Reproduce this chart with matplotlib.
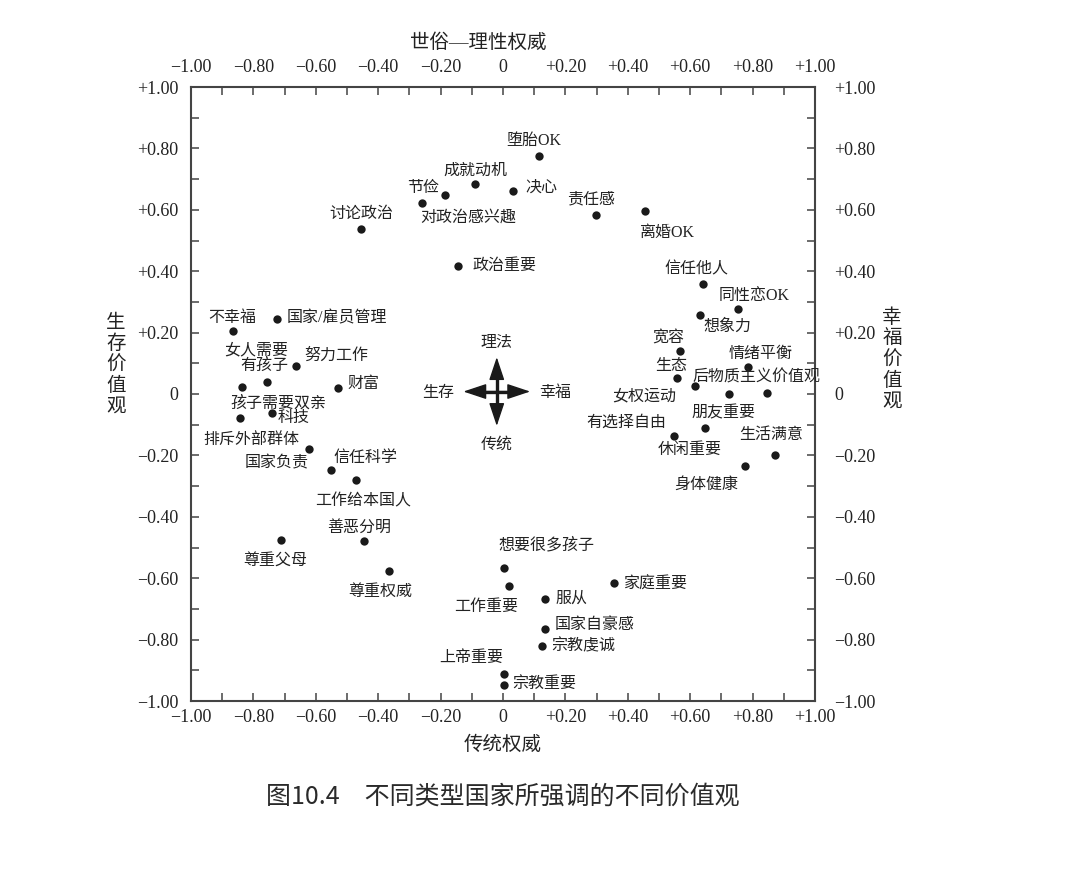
import matplotlib
matplotlib.use("Agg")
import matplotlib.pyplot as plt
import numpy as np

# ---------------- data ----------------
labels = [
    "堕胎OK", "成就动机", "节俭", "对政治感兴趣", "决心", "责任感", "讨论政治", "离婚OK", "政治重要",
    "信任他人", "同性恋OK", "想象力", "宽容", "情绪平衡", "生态", "后物质主义价值观", "女权运动",
    "朋友重要", "有选择自由", "休闲重要", "生活满意", "身体健康",
    "不幸福", "国家/雇员管理", "女人需要\n有孩子", "努力工作", "财富", "孩子需要双亲", "科技",
    "排斥外部群体", "国家负责", "信任科学", "工作给本国人",
    "善恶分明", "尊重父母", "尊重权威",
    "想要很多孩子", "工作重要", "家庭重要", "服从", "国家自豪感", "宗教虔诚", "上帝重要", "宗教重要",
]
x_vals = [
    0.114, -0.089, -0.259, -0.187, 0.033, 0.299, -0.456, 0.456, -0.143,
    0.640, 0.753, 0.630, 0.567, 0.784, 0.559, 0.845, 0.616,
    0.725, 0.549, 0.646, 0.873, 0.776,
    -0.864, -0.725, -0.755, -0.664, -0.530, -0.836, -0.741,
    -0.843, -0.623, -0.551, -0.472,
    -0.446, -0.713, -0.364,
    0.003, 0.018, 0.356, 0.136, 0.134, 0.124, 0.003, 0.003,
]
y_vals = [
    0.776, 0.683, 0.623, 0.649, 0.660, 0.582, 0.537, 0.597, 0.418,
    0.358, 0.276, 0.256, 0.141, 0.089, 0.052, 0.004, 0.027,
    0.000, -0.137, -0.112, -0.198, -0.235,
    0.204, 0.245, 0.038, 0.090, 0.021, 0.024, -0.063,
    -0.078, -0.178, -0.249, -0.280,
    -0.478, -0.477, -0.577,
    -0.568, -0.625, -0.617, -0.669, -0.765, -0.821, -0.912, -0.948,
]
tick_values = [-1.0, -0.8, -0.6, -0.4, -0.2, 0.0, 0.2, 0.4, 0.6, 0.8, 1.0]
tick_labels = ["−1.00", "−0.80", "−0.60", "−0.40", "−0.20", "0",
               "+0.20", "+0.40", "+0.60", "+0.80", "+1.00"]
top_title = "世俗—理性权威"
bottom_title = "传统权威"
left_title = "生存价值观"
right_title = "幸福价值观"
caption = "图10.4\u3000不同类型国家所强调的不同价值观"
compass = {"up": "理法", "down": "传统", "left": "生存", "right": "幸福"}

# label placement (pixel offsets from the dot, ha)
placements = [
    (-5, 15, "center"), (0, 14, "center"), (1, 15, "center"), (24, -23, "center"), (12, 4, "left"),
    (-5, 16, "center"), (1, 15, "center"), (22, -22, "center"), (14, 0, "left"),
    (-6, 15, "center"), (16, 13, "center"), (28, -11, "center"), (-12, 12, "center"), (13, 13, "center"),
    (-6, 12, "center"), (-10, 15, "center"), (-19, -11, "right"),
    (-6, -19, "center"), (-8, 13, "right"), (-15, -22, "center"), (-4, 20, "center"), (-39, -19, "center"),
    (-1, 13, "center"), (10, 0, "left"), (21, 24, "right"), (9, 11, "left"), (10, 4, "left"),
    (36, -17, "center"), (6, -5, "left"),
    (11, -22, "center"), (-32, -15, "center"), (34, 12, "center"), (7, -21, "center"),
    (-5, 13, "center"), (-5, -21, "center"), (-9, -21, "center"),
    (43, 23, "center"), (-22, -21, "center"), (9, -1, "left"), (10, 1, "left"), (10, 4, "left"),
    (10, 0, "left"), (-1, 16, "right"), (8, 1, "left"),
]

SERIF_CJK = ["Liberation Serif", "Noto Sans CJK SC"]
plt.rcParams["font.family"] = SERIF_CJK
TXT = "#222222"

fig = plt.figure(figsize=(10.73, 8.85), dpi=100)
ax = fig.add_axes([191 / 1073, 184 / 885, 624 / 1073, 614 / 885])
ax.set_xlim(-1, 1)
ax.set_ylim(-1, 1)

ax.scatter(x_vals, y_vals, s=36, color="#1a1a1a", zorder=3, linewidths=0)
for lab, xv, yv, (dx, dy, ha) in zip(labels, x_vals, y_vals, placements):
    ax.annotate(lab, (xv, yv), xytext=(dx, dy), textcoords="offset pixels",
                ha=ha, va="center", fontsize=11.5, color=TXT,
                multialignment=ha, linespacing=1.0)

# compass arrows
cx, cy = -0.02, 0.008
hl, vl = 0.107, 0.112
arrow_kw = dict(arrowstyle="-|>,head_length=1.2,head_width=0.4", lw=1.0,
                color="#1a1a1a", mutation_scale=12, shrinkA=0, shrinkB=0)
for ddx, ddy in [(-hl, 0), (hl, 0), (0, vl), (0, -vl)]:
    ax.annotate("", xy=(cx + ddx, cy + ddy), xytext=(cx, cy), arrowprops=arrow_kw)
    ax.plot([cx, cx + ddx * 0.7], [cy, cy + ddy * 0.7], color="#1a1a1a", lw=2.4,
            solid_capstyle="butt", zorder=2)
ax.annotate(compass["up"], (cx, cy), xytext=(0, 49), textcoords="offset pixels",
            ha="center", va="center", fontsize=11.5, color=TXT)
ax.annotate(compass["down"], (cx, cy), xytext=(0, -53), textcoords="offset pixels",
            ha="center", va="center", fontsize=11.5, color=TXT)
ax.annotate(compass["left"], (cx, cy), xytext=(-59, -1), textcoords="offset pixels",
            ha="center", va="center", fontsize=11.5, color=TXT)
ax.annotate(compass["right"], (cx, cy), xytext=(58, -1), textcoords="offset pixels",
            ha="center", va="center", fontsize=11.5, color=TXT)

# axes styling
minor = np.arange(-1.0, 1.01, 0.1)
for sp in ax.spines.values():
    sp.set_linewidth(1.5)
    sp.set_color("#444444")
ax.set_xticks(tick_values)
ax.set_xticklabels(tick_labels)
ax.set_yticks(tick_values)
ax.set_yticklabels(tick_labels)
ax.set_xticks(minor, minor=True)
ax.set_yticks(minor, minor=True)
ax.tick_params(which="both", direction="in", length=6, width=1.1, color="#444444",
               labelsize=13, labelcolor=TXT)
ax.tick_params(axis="x", which="both", bottom=True, top=True, labeltop=False, pad=6)
ax.tick_params(axis="y", which="both", left=True, right=True, labelright=False, pad=9)

secx = ax.secondary_xaxis("top")
secx.set_xticks(tick_values)
secx.set_xticklabels(tick_labels)
secx.tick_params(direction="in", length=0, labelsize=13, labelcolor=TXT, pad=8)
secy = ax.secondary_yaxis("right")
secy.set_yticks(tick_values)
secy.set_yticklabels(tick_labels)
secy.tick_params(direction="in", length=0, labelsize=13, labelcolor=TXT, pad=14)
for s in list(secx.spines.values()) + list(secy.spines.values()):
    s.set_visible(False)

# titles
fig.text(478 / 1073, 1 - 43 / 885, top_title, ha="center", va="center", fontsize=14, color=TXT)
fig.text(503 / 1073, 1 - 745 / 885, bottom_title, ha="center", va="center", fontsize=14, color=TXT)
for i, ch in enumerate(left_title):
    fig.text(116 / 1073, 1 - (323 + 21 * i) / 885, ch, ha="center", va="center",
             fontsize=14, color=TXT)
for i, ch in enumerate(right_title):
    fig.text(892 / 1073, 1 - (318 + 21 * i) / 885, ch, ha="center", va="center",
             fontsize=14, color=TXT)
fig.text(503 / 1073, 1 - 797 / 885, caption, ha="center", va="center", fontsize=18,
         color="#2a2a2a", family=["Noto Sans CJK SC", "DejaVu Sans"])

fig.savefig("out.png", dpi=100, facecolor="white")
